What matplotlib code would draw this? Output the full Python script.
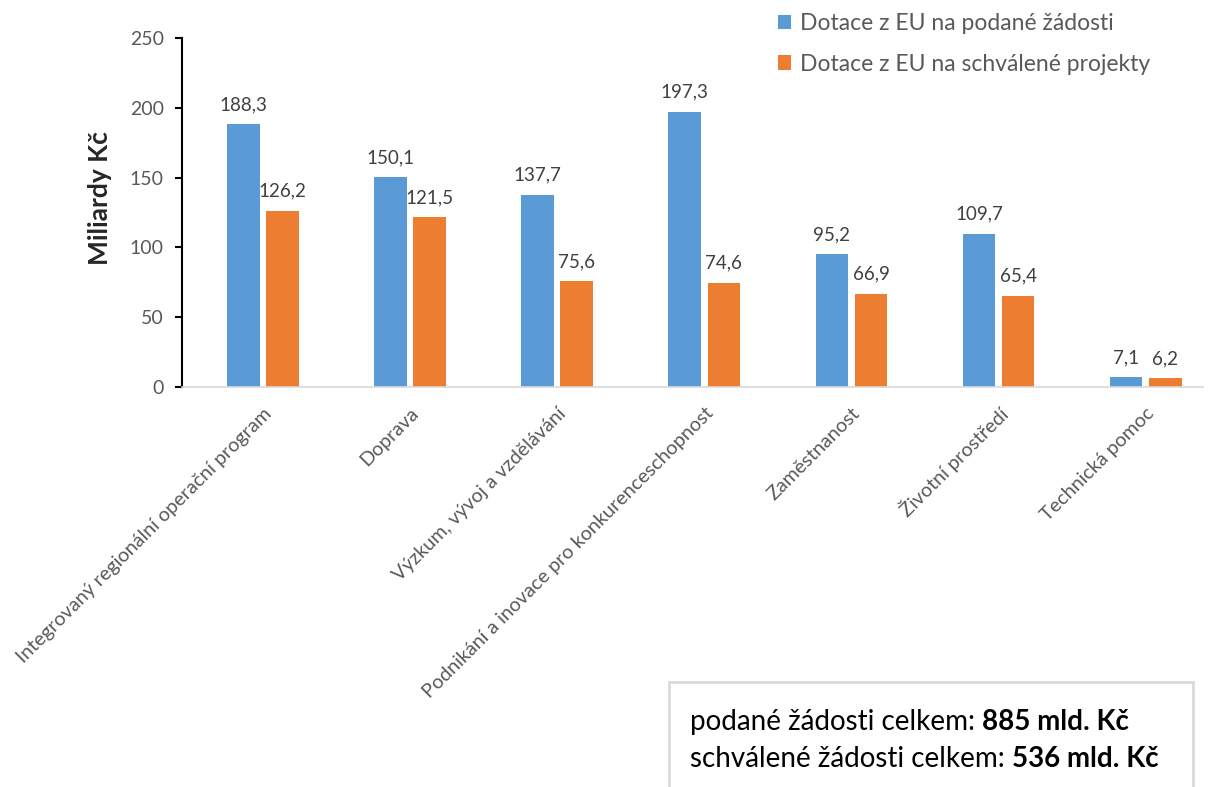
import numpy as np
import matplotlib
matplotlib.use('Agg')
import matplotlib.pyplot as plt
from matplotlib.patches import Rectangle

plt.rcParams['font.family'] = ['Lato', 'DejaVu Sans']

# data
categories = ['Integrovaný regionální operační program', 'Doprava',
              'Výzkum, vývoj a vzdělávání',
              'Podnikání a inovace pro konkurenceschopnost', 'Zaměstnanost',
              'Životní prostředí', 'Technická pomoc']
podane = [188.3, 150.1, 137.7, 197.3, 95.2, 109.7, 7.1]
schvalene = [126.2, 121.5, 75.6, 74.6, 66.9, 65.4, 6.2]
series_names = ['Dotace z EU na podané žádosti', 'Dotace z EU na schválené projekty']
yticks = [0, 50, 100, 150, 200, 250]
totals = [('podané žádosti celkem: ', '885 mld. Kč'),
          ('schválené žádosti celkem: ', '536 mld. Kč')]

blue = '#5b9bd5'
orange = '#ed7d31'
grey = '#595959'

fig = plt.figure(figsize=(12.09, 7.87), dpi=100)
ax = fig.add_axes([182 / 1209, 1 - 387 / 787, 1027 / 1209, 349 / 787])

x = np.arange(len(categories))
w = 0.222
b1 = ax.bar(x - 0.133, podane, w, color=blue, label=series_names[0])
b2 = ax.bar(x + 0.133, schvalene, w, color=orange, label=series_names[1])

for bars, vals in ((b1, podane), (b2, schvalene)):
    for r, v in zip(bars, vals):
        ax.annotate(('%.1f' % v).replace('.', ','),
                    (r.get_x() + r.get_width() / 2, v), xytext=(0, 8),
                    textcoords='offset points', ha='center', va='bottom',
                    fontsize=13.5, color='#404040')

ax.set_xlim(-0.55, 6.43)
ax.set_ylim(0, 250)
ax.set_yticks(yticks)
ax.set_yticklabels([str(t) for t in yticks], fontsize=14, color=grey)
ax.set_xticks(x + 0.04)
ax.set_xticklabels(categories, rotation=45, ha='right', va='center',
                   rotation_mode='anchor', fontsize=14.2, color=grey)
ax.tick_params(axis='x', length=0, pad=17)
ax.tick_params(axis='y', length=5, width=1.5, direction='out', pad=8)

for s in ['top', 'right']:
    ax.spines[s].set_visible(False)
ax.spines['left'].set_linewidth(1.5)
ax.spines['left'].set_color('black')
ax.spines['bottom'].set_color('#d9d9d9')
ax.spines['bottom'].set_linewidth(1.2)
ax.spines['bottom'].set_bounds(-0.55, 6.39)

ax.set_ylabel('Miliardy Kč', fontsize=19, fontweight='bold', color='#262626')
ax.yaxis.set_label_coords(-0.068, 0.54)

leg = ax.legend(loc='upper left', bbox_to_anchor=(0.56, 1.13), frameon=False,
                fontsize=16.5, handlelength=0.6, handleheight=0.6,
                handletextpad=0.35, labelspacing=0.85, labelcolor=grey)

# summary box
fig.patches.append(Rectangle((669 / 1209, -0.01), 524 / 1209, 0.143,
                             transform=fig.transFigure, fill=False,
                             edgecolor='#d9d9d9', linewidth=2))
for i, (plain, bold) in enumerate(totals):
    t = fig.text(690 / 1209, 1 - (730 + 37 * i) / 787, plain,
                 fontsize=20, color='black', va='baseline')
    ax.annotate(bold, xy=(1, 0), xycoords=t, va='bottom', fontsize=20,
                fontweight='bold', color='black', annotation_clip=False)

fig.savefig('out.png', dpi=100)
